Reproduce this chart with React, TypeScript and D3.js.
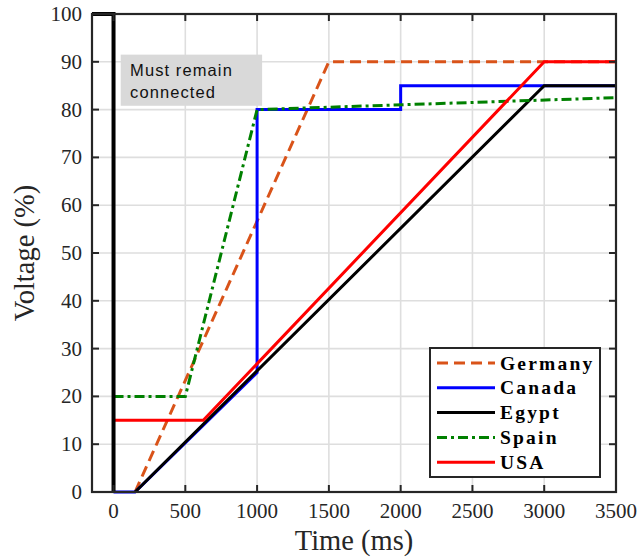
import React from "react";
import * as d3 from "d3";

type Pt = [number, number];

// boundary of the "must remain connected" region
const boundary: Pt[] = [[-150, 100], [0, 100], [0, 0]];
const germany: Pt[] = [[150, 0], [1500, 90], [3500, 90]];
const canada: Pt[] = [[0, 0], [150, 0], [1000, 25], [1000, 80], [2000, 80], [2000, 85], [3500, 85]];
const egypt: Pt[] = [[150, 0], [3000, 85], [3500, 85]];
const spain: Pt[] = [[0, 20], [500, 20], [1000, 80], [3500, 82.5]];
const usa: Pt[] = [[0, 15], [625, 15], [3000, 90], [3500, 90]];

const xTicks = [0, 500, 1000, 1500, 2000, 2500, 3000, 3500];
const yTicks = [0, 10, 20, 30, 40, 50, 60, 70, 80, 90, 100];
const noteLines = ["Must remain", "connected"];

const series = [
  { name: "Germany", data: germany, color: "#D95319", dash: "11 6" },
  { name: "Canada", data: canada, color: "#0000FF", dash: "" },
  { name: "Egypt", data: egypt, color: "#000000", dash: "" },
  { name: "Spain", data: spain, color: "#008000", dash: "10 4 3 4" },
  { name: "USA", data: usa, color: "#FF0000", dash: "" },
];

const W = 639;
const H = 557;
const m = { left: 92, right: 23, top: 14, bottom: 65 };

export default function App() {
  const x = d3.scaleLinear().domain([-150, 3500]).range([m.left, W - m.right]);
  const y = d3.scaleLinear().domain([0, 100]).range([H - m.bottom, m.top]);
  const line = d3
    .line<Pt>()
    .x((d) => x(d[0]))
    .y((d) => y(d[1]));

  const x0 = x.range()[0];
  const x1 = x.range()[1];
  const y0 = y.range()[0];
  const y1 = y.range()[1];
  const axisCol = "#262626";
  const serif = "'Liberation Serif', 'Times New Roman', serif";
  const sans = "'Liberation Sans', Arial, sans-serif";

  const boxTop = y(91.5);

  return (
    <svg width={W} height={H} style={{ position: "absolute", left: 0, top: 0 }}>
      <rect width={W} height={H} fill="#fff" />
      {/* grid */}
      {xTicks.map((t) => (
        <line key={"gx" + t} x1={x(t)} x2={x(t)} y1={y0} y2={y1} stroke="#dedede" strokeWidth={1.6} />
      ))}
      {yTicks.map((t) => (
        <line key={"gy" + t} x1={x0} x2={x1} y1={y(t)} y2={y(t)} stroke="#dedede" strokeWidth={1.6} />
      ))}

      {/* annotation */}
      <rect x={x(50)} y={boxTop} width={x(1035) - x(50)} height={y(80.8) - boxTop} fill="#d9d9d9" />
      {noteLines.map((s, i) => (
        <text key={s} x={x(115)} y={boxTop + 21.5 + i * 21.5} fontFamily={sans} fontSize={16.5} letterSpacing={1.1} fill="#111">
          {s}
        </text>
      ))}

      {/* series */}
      {series.map((s) => (
        <path
          key={s.name}
          d={line(s.data) || ""}
          fill="none"
          stroke={s.color}
          strokeWidth={3}
          strokeDasharray={s.dash || undefined}
        />
      ))}
      <path d={line(boundary) || ""} fill="none" stroke="#000" strokeWidth={4} />

      {/* frame */}
      <rect x={x0} y={y1} width={x1 - x0} height={y0 - y1} fill="none" stroke={axisCol} strokeWidth={2.2} />
      {xTicks.map((t) => (
        <g key={"tx" + t}>
          <line x1={x(t)} x2={x(t)} y1={y0} y2={y0 - 7} stroke={axisCol} strokeWidth={2} />
          <line x1={x(t)} x2={x(t)} y1={y1} y2={y1 + 7} stroke={axisCol} strokeWidth={2} />
          <text x={x(t)} y={y0 + 26} textAnchor="middle" fontFamily={serif} fontSize={21} fill={axisCol}>
            {t}
          </text>
        </g>
      ))}
      {yTicks.map((t) => (
        <g key={"ty" + t}>
          <line x1={x0} x2={x0 + 7} y1={y(t)} y2={y(t)} stroke={axisCol} strokeWidth={2} />
          <line x1={x1} x2={x1 - 7} y1={y(t)} y2={y(t)} stroke={axisCol} strokeWidth={2} />
          <text x={x0 - 10} y={y(t) + 7} textAnchor="end" fontFamily={serif} fontSize={21} fill={axisCol}>
            {t}
          </text>
        </g>
      ))}

      {/* axis labels */}
      <text x={(x0 + x1) / 2} y={H - 7} textAnchor="middle" fontFamily={serif} fontSize={28.5} fill={axisCol}>
        Time (ms)
      </text>
      <text
        transform={`translate(34,${(y0 + y1) / 2}) rotate(-90)`}
        textAnchor="middle"
        fontFamily={serif}
        fontSize={28.5}
        fill={axisCol}
      >
        Voltage (%)
      </text>

      {/* legend */}
      <g transform="translate(430,348)">
        <rect width={170} height={129} fill="#fff" stroke={axisCol} strokeWidth={2} />
        {series.map((s, i) => (
          <g key={"lg" + s.name} transform={`translate(0,${15 + i * 24.8})`}>
            <line x1={7} x2={65} y1={0} y2={0} stroke={s.color} strokeWidth={3} strokeDasharray={s.dash || undefined} />
            <text x={70} y={6.5} fontFamily={serif} fontWeight="bold" fontSize={19.5} letterSpacing={2.2} fill="#000">
              {s.name}
            </text>
          </g>
        ))}
      </g>
    </svg>
  );
}
